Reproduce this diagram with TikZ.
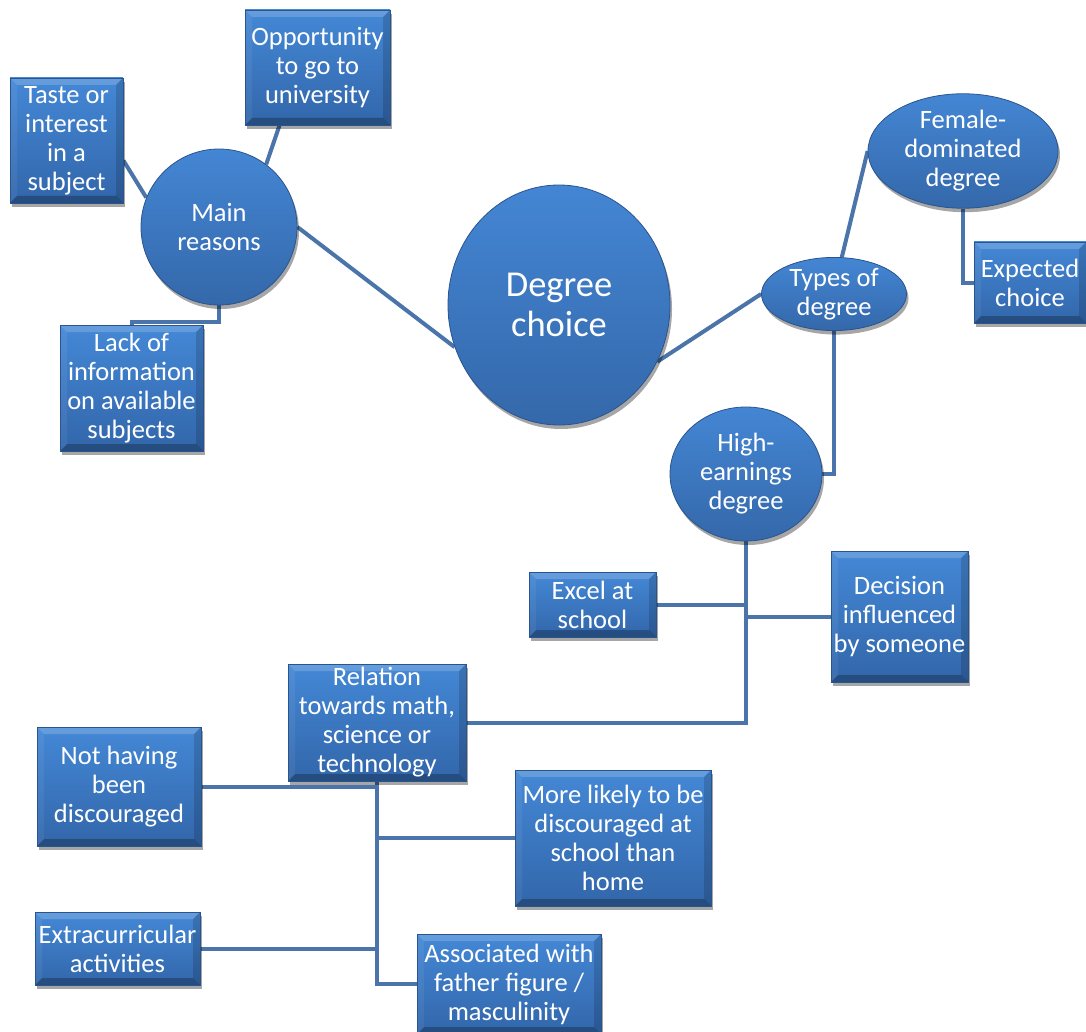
\documentclass[tikz,border=0pt]{standalone}
\usepackage{fontspec}
\setmainfont{Carlito}
\usetikzlibrary{shapes.geometric,shadows,backgrounds,calc}
\definecolor{linec}{RGB}{74,116,170}
\definecolor{boxtop}{RGB}{68,136,214}
\definecolor{boxbot}{RGB}{50,102,170}
\definecolor{boxedge}{RGB}{42,84,142}
\definecolor{eltop}{RGB}{68,134,212}
\definecolor{elbot}{RGB}{52,104,170}
\tikzset{
  sh/.style={drop shadow={shadow xshift=2pt,shadow yshift=-4pt,opacity=0.35,fill=black}},
  bevel/.style={path picture={
    \fill[white,opacity=0.18] (path picture bounding box.north west) -- (path picture bounding box.north east)
      -- ([shift={(-7pt,-7pt)}]path picture bounding box.north east) -- ([shift={(7pt,-7pt)}]path picture bounding box.north west) -- cycle;
    \fill[black,opacity=0.25] (path picture bounding box.south west) -- (path picture bounding box.south east)
      -- ([shift={(-7pt,7pt)}]path picture bounding box.south east) -- ([shift={(7pt,7pt)}]path picture bounding box.south west) -- cycle;
    \fill[white,opacity=0.06] (path picture bounding box.north west) -- (path picture bounding box.south west)
      -- ([shift={(7pt,7pt)}]path picture bounding box.south west) -- ([shift={(7pt,-7pt)}]path picture bounding box.north west) -- cycle;
    \fill[black,opacity=0.15] (path picture bounding box.north east) -- (path picture bounding box.south east)
      -- ([shift={(-7pt,7pt)}]path picture bounding box.south east) -- ([shift={(-7pt,-7pt)}]path picture bounding box.north east) -- cycle;
  }},
  bx/.style={rectangle, inner sep=0pt, align=center, text=white,
    font=\fontsize{26.5}{29}\selectfont, top color=boxtop, bottom color=boxbot,
    draw=boxedge, line width=0.8pt, sh, bevel},
  el/.style={ellipse, inner sep=0pt, align=center, text=white,
    font=\fontsize{26.5}{29}\selectfont, top color=eltop, bottom color=elbot,
    draw=boxedge, line width=0.8pt, sh},
  conn/.style={draw=linec, line width=4pt}
}
\begin{document}
\begin{tikzpicture}[x=1pt,y=-1pt]
\useasboundingbox (0,0) rectangle (1086,1032);
% nodes
\node[el, minimum width=222pt, minimum height=240pt, font=\fontsize{36.5}{40}\selectfont] (degree) at (559,305) {Degree\\choice};
\node[el, minimum width=156pt, minimum height=156pt] (main) at (219,227) {Main\\reasons};
\node[bx, minimum width=113pt, minimum height=125pt] (taste) at (66.5,140.5) {Taste or\\interest\\in a\\subject};
\node[bx, minimum width=145pt, minimum height=115pt] (opp) at (317.5,67.5) {Opportunity\\to go to\\university};
\node[bx, minimum width=143pt, minimum height=126pt] (lack) at (131.5,388) {Lack of\\information\\on available\\subjects};
\node[el, minimum width=145pt, minimum height=72pt] (types) at (834,294) {Types of\\degree};
\node[el, minimum width=190pt, minimum height=112pt] (female) at (963,151) {Female-\\dominated\\degree};
\node[bx, minimum width=112pt, minimum height=81pt] (expected) at (1030,282.5) {Expected\\choice};
\node[el, minimum width=152pt, minimum height=134pt] (high) at (746,474) {High-\\earnings\\degree};
\node[bx, minimum width=127pt, minimum height=65pt] (excel) at (592.5,604.5) {Excel at\\school};
\node[bx, minimum width=137pt, minimum height=131pt] (decision) at (899.5,616.5) {Decision\\influenced\\by someone};
\node[bx, minimum width=178pt, minimum height=117pt] (relation) at (377,722.5) {Relation\\towards math,\\science or\\technology};
\node[bx, minimum width=164pt, minimum height=119pt] (notdisc) at (119,786.5) {Not having\\been\\discouraged};
\node[bx, minimum width=165pt, minimum height=73pt] (extra) at (117.5,948.5) {Extracurricular\\activities};
\node[bx, minimum width=196pt, minimum height=136pt] (more) at (613,838) {More likely to be\\discouraged at\\school than\\home};
\node[bx, minimum width=184pt, minimum height=100pt] (assoc) at (509,984) {Associated with\\father figure /\\masculinity};
% connectors
\begin{pgfonlayer}{background}
\draw[conn] (main.158) -- ($(taste.east)+(0,20)$);
\draw[conn] (main.53) -- ($(opp.south)+(-38,0)$);
\draw[conn] (main.south) -- ++(0,17) -| (lack.north);
\draw[conn] (main.east) -- (degree.202);
\draw[conn] (degree.330) -- (types.west);
\draw[conn] (types.78) -- (female.west);
\draw[conn] (female.south) |- (expected.west);
\draw[conn] (types.south) |- (high.east);
\draw[conn] (high.south) |- (relation.east);
\draw[conn] (excel.east) -- (excel.east -| high.south);
\draw[conn] (decision.west -| high.south) -- (decision.west);
\draw[conn] (relation.south) |- (notdisc.east);
\draw[conn] (relation.south) |- (more.west);
\draw[conn] (relation.south) |- (extra.east);
\draw[conn] (relation.south) |- (assoc.west);
\end{pgfonlayer}
\end{tikzpicture}
\end{document}
